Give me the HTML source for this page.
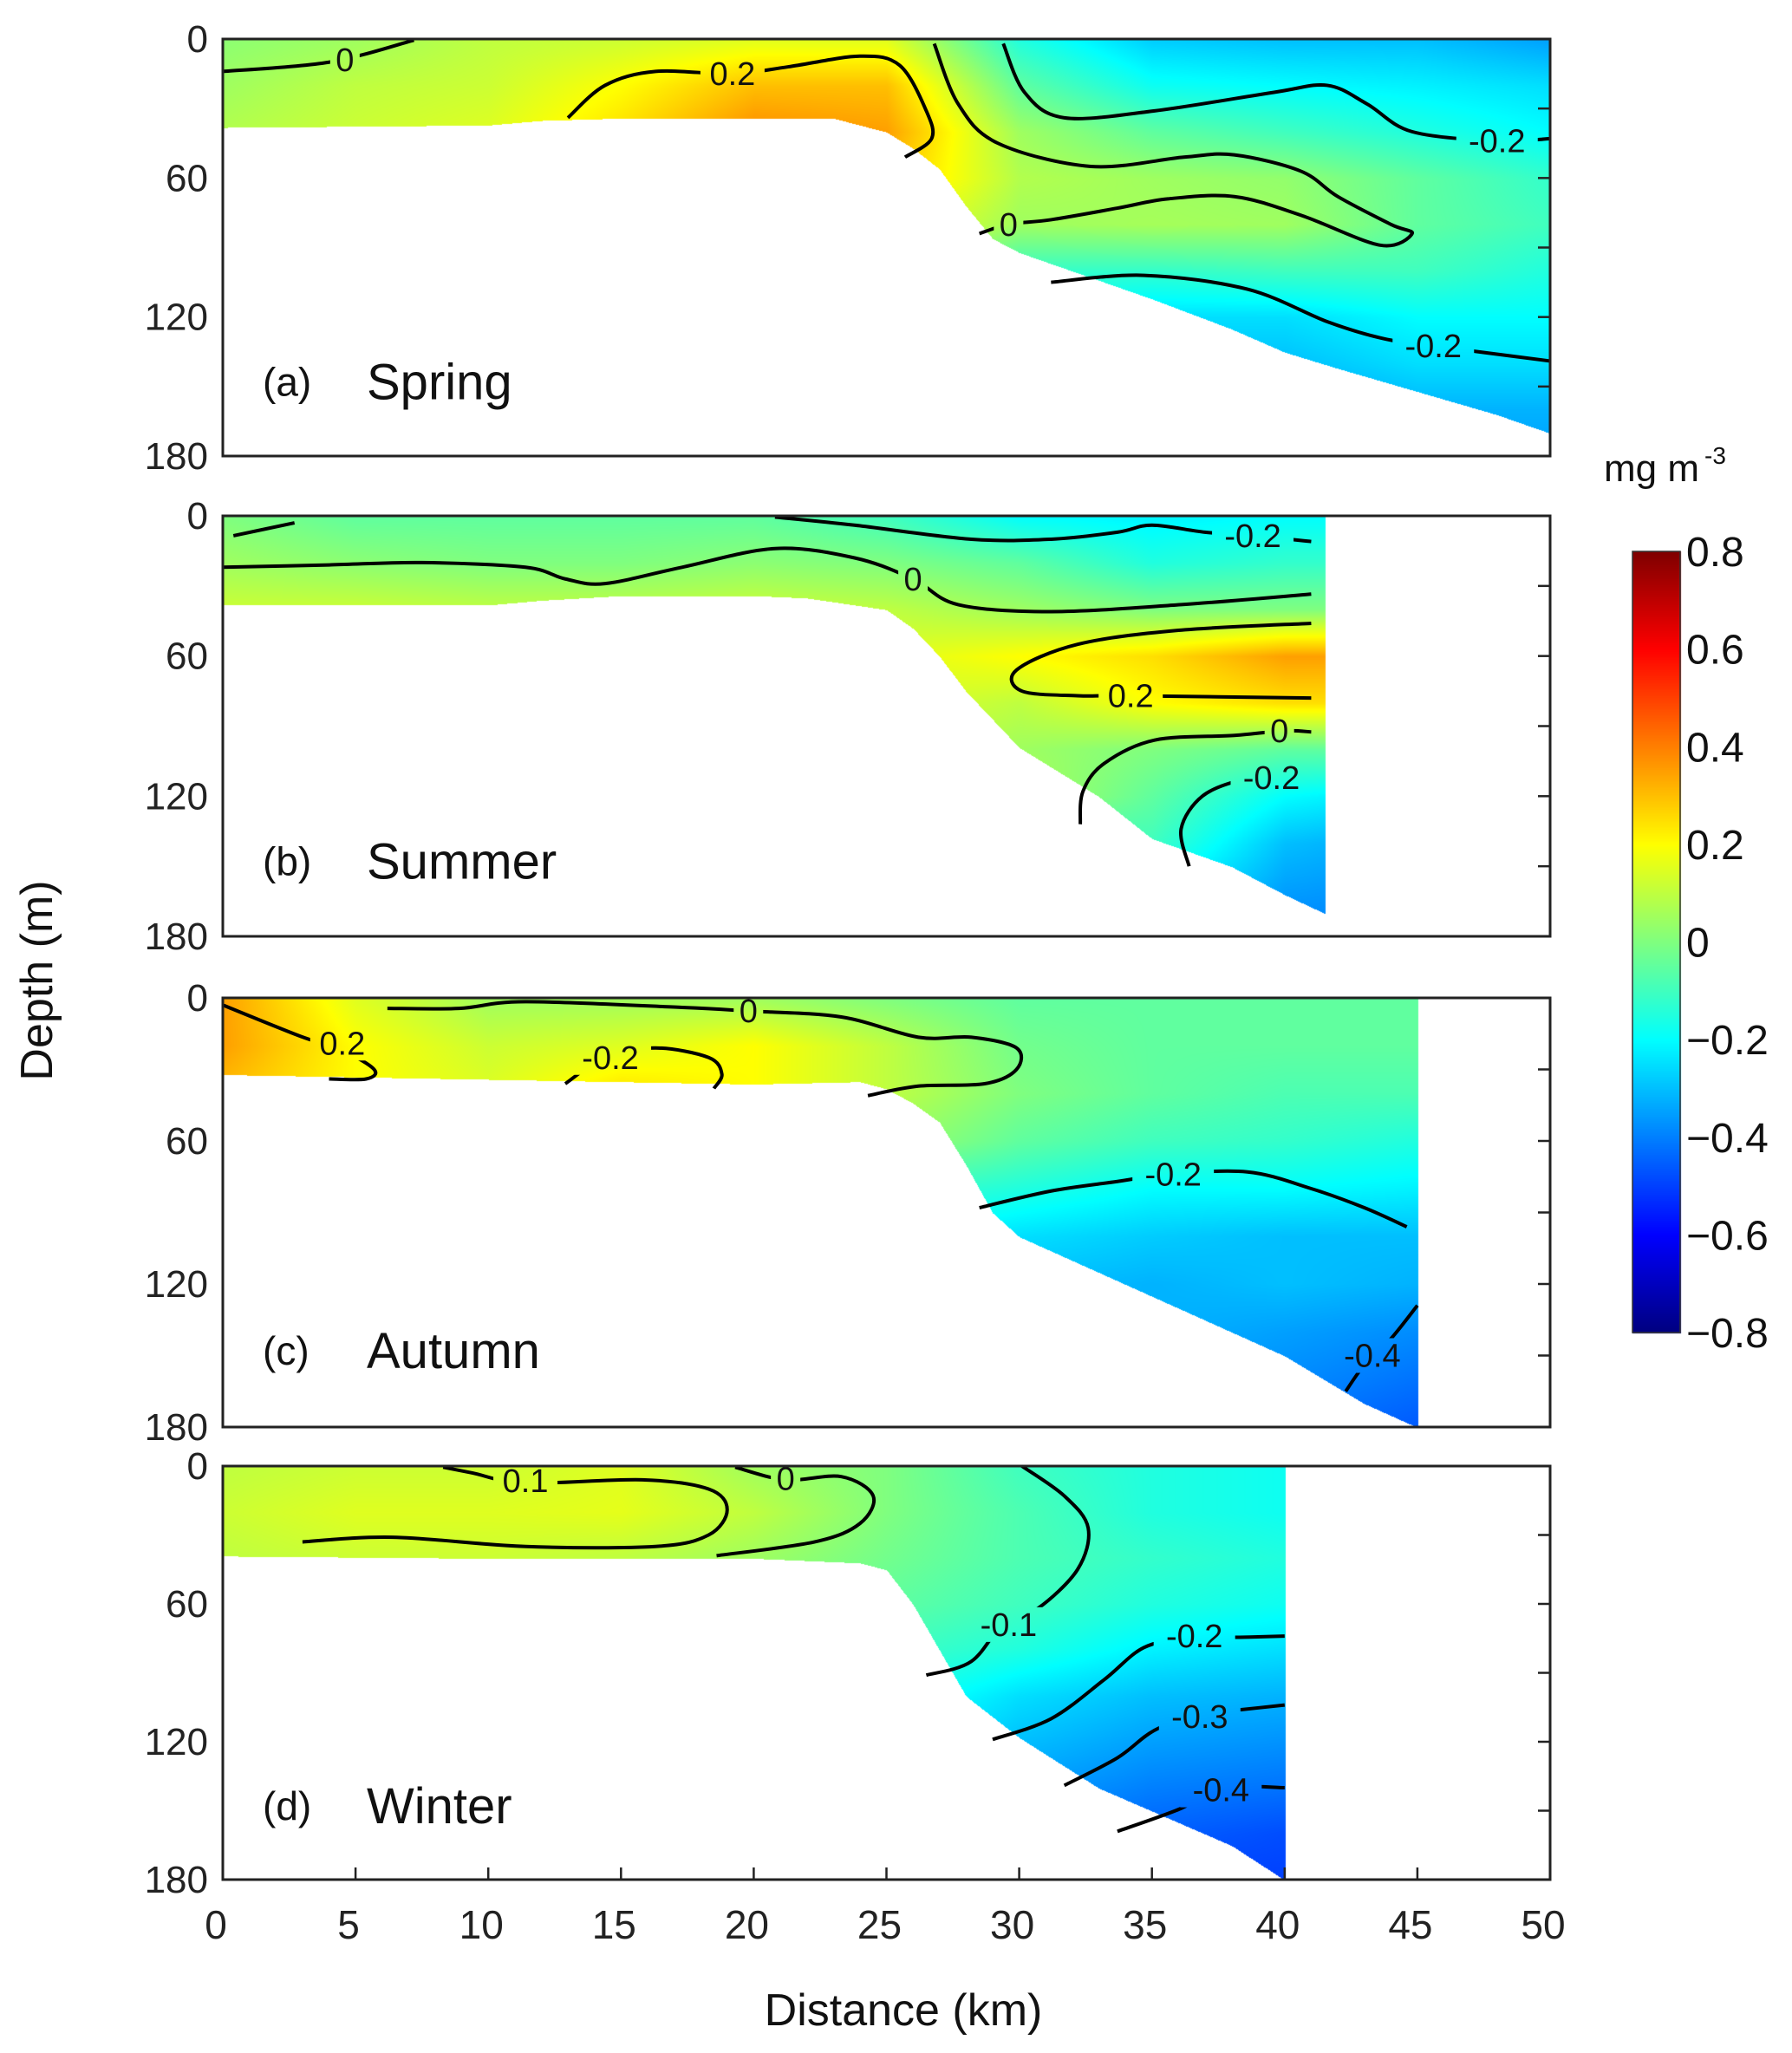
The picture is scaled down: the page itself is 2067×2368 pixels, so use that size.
<!DOCTYPE html>
<html><head><meta charset="utf-8">
<style>
html,body{margin:0;padding:0;background:#fff;}
#wrap{position:relative;width:2067px;height:2368px;overflow:hidden;font-family:"Liberation Sans",sans-serif;}
canvas{position:absolute;}
svg{position:absolute;left:0;top:0;}
</style></head>
<body>
<div id="wrap">
<canvas id="cv" width="2067" height="2368" style="left:0;top:0"></canvas>
<svg id="sv" width="2067" height="2368"></svg>
</div>
<script>
// ---- data ----
const gridKm = [0,5,10,15,20,25,30,35,40,45,50];
const gridDepth = [0,20,40,60,80,100,120,140,160,180];
const springValues = [
 [0.02,0.05,0.1,0.12,0.15,0.15,-0.15,-0.28,-0.3,-0.3,-0.35],
 [0.05,0.1,0.12,0.2,0.3,0.3,-0.05,-0.18,-0.2,-0.22,-0.25],
 [0.08,0.12,0.15,0.25,0.38,0.35,0.05,-0.05,-0.1,-0.15,-0.2],
 [0.1,0.12,0.15,0.25,0.35,0.3,0.08,0.05,0.03,-0.05,-0.12],
 [0.1,0.1,0.1,0.2,0.25,0.2,0.05,0.06,0.05,-0.05,-0.1],
 [0,0,0,0.1,0.1,0.05,-0.12,-0.12,-0.1,-0.1,-0.15],
 [-0.1,-0.1,-0.1,-0.1,-0.1,-0.15,-0.2,-0.25,-0.25,-0.2,-0.2],
 [-0.2,-0.2,-0.2,-0.2,-0.2,-0.25,-0.3,-0.3,-0.3,-0.25,-0.25],
 [-0.3,-0.3,-0.3,-0.3,-0.3,-0.3,-0.35,-0.35,-0.35,-0.32,-0.32],
 [-0.35,-0.35,-0.35,-0.35,-0.35,-0.35,-0.35,-0.35,-0.35,-0.35,-0.35]];
const summerValues = [
 [0.0,-0.05,-0.05,-0.05,-0.05,-0.1,-0.2,-0.22,-0.2,-0.2,-0.2],
 [0.05,0.02,0,0,0.02,0.0,-0.05,-0.15,-0.12,-0.12,-0.12],
 [0.12,0.12,0.1,0.1,0.12,0.1,0.05,0.0,0.0,0.0,0.0],
 [0.15,0.15,0.15,0.15,0.15,0.15,0.2,0.25,0.35,0.35,0.35],
 [0.15,0.15,0.15,0.15,0.15,0.15,0.1,0.2,0.25,0.25,0.25],
 [0.12,0.12,0.12,0.12,0.12,0.12,0.05,0.0,-0.05,-0.05,-0.05],
 [0.1,0.1,0.1,0.1,0.1,0.08,0.08,-0.05,-0.2,-0.25,-0.25],
 [0.05,0.05,0.05,0.05,0.05,0.05,-0.1,-0.1,-0.3,-0.35,-0.35],
 [0,0,0,0,0,0,-0.15,-0.2,-0.35,-0.38,-0.38],
 [-0.1,-0.1,-0.1,-0.1,-0.1,-0.1,-0.2,-0.3,-0.4,-0.4,-0.4]];
const autumnValues = [
 [0.35,0.15,0.05,0.05,0.05,0.0,-0.05,-0.05,-0.05,-0.05,-0.05],
 [0.35,0.2,0.12,0.15,0.2,0.1,-0.02,-0.05,-0.05,-0.05,-0.05],
 [0.3,0.2,0.15,0.25,0.2,0.1,0.0,-0.05,-0.08,-0.08,-0.08],
 [0.25,0.2,0.15,0.2,0.15,0.05,-0.05,-0.1,-0.12,-0.15,-0.15],
 [0.2,0.15,0.1,0.1,0.05,-0.1,-0.15,-0.2,-0.2,-0.22,-0.22],
 [0.1,0.1,0.05,0.0,-0.1,-0.2,-0.25,-0.28,-0.3,-0.3,-0.3],
 [0,0,0,-0.1,-0.2,-0.25,-0.3,-0.32,-0.3,-0.32,-0.32],
 [-0.1,-0.1,-0.1,-0.2,-0.25,-0.3,-0.32,-0.32,-0.35,-0.38,-0.38],
 [-0.2,-0.2,-0.2,-0.25,-0.3,-0.32,-0.35,-0.35,-0.38,-0.42,-0.42],
 [-0.3,-0.3,-0.3,-0.3,-0.35,-0.38,-0.4,-0.4,-0.42,-0.46,-0.46]];
const winterValues = [
 [0.1,0.12,0.12,0.15,0.05,0.0,-0.1,-0.15,-0.18,-0.18,-0.18],
 [0.12,0.15,0.15,0.16,0.1,0.0,-0.08,-0.15,-0.18,-0.18,-0.18],
 [0.1,0.12,0.12,0.1,0.05,-0.02,-0.08,-0.12,-0.15,-0.15,-0.15],
 [0.05,0.05,0.05,0.05,0.0,-0.05,-0.1,-0.15,-0.18,-0.18,-0.18],
 [0,0,0,0,-0.05,-0.1,-0.15,-0.22,-0.25,-0.25,-0.25],
 [-0.05,-0.05,-0.05,-0.08,-0.1,-0.15,-0.25,-0.3,-0.32,-0.32,-0.32],
 [-0.1,-0.1,-0.1,-0.12,-0.15,-0.2,-0.3,-0.35,-0.37,-0.37,-0.37],
 [-0.15,-0.15,-0.15,-0.2,-0.25,-0.3,-0.35,-0.4,-0.42,-0.42,-0.42],
 [-0.2,-0.2,-0.2,-0.25,-0.3,-0.35,-0.4,-0.45,-0.48,-0.48,-0.48],
 [-0.25,-0.25,-0.25,-0.3,-0.35,-0.4,-0.45,-0.5,-0.5,-0.5,-0.5]];
const springBathyKm = [0,10,12,15,20,23,25,26,27,28,29,30,32,35,38,40,42,45,48,50];
const springBathyDepth = [38,37,35,34,34,34,40,47,56,72,86,92,100,112,125,135,142,152,162,170];
const summerBathyKm = [0,10,12,15,20,22,25,26,27,28,30,33,35,38,40,41.5];
const summerBathyDepth = [38,38,36,34,34,35,40,48,60,75,99,120,138,150,162,170];
const autumnBathyKm = [0,10,15,20,24,25,26,27,28,29,30,35,40,43,45];
const autumnBathyDepth = [32,34,35,36,35,38,44,52,70,90,100,125,150,170,180];
const winterBathyKm = [0,10,15,20,24,25,26,27,28,30,33,35,38,40];
const winterBathyDepth = [39,40,40,40,42,45,60,80,100,118,140,150,165,180];
const panelExtentKm = [50,41.5,45,40];
const panelNames = ["(a)","(b)","(c)","(d)"];
const seasonNames = ["Spring","Summer","Autumn","Winter"];
const yTickLabels = [0,60,120,180];
const xTickLabels = [0,5,10,15,20,25,30,35,40,45,50];
const cbarTickLabels = [0.8,0.6,0.4,0.2,0,-0.2,-0.4,-0.6,-0.8];
// contour lines: [km, depth] points
const springContours = [
 {v:"0",pts:[[0,14],[4,10],[7.2,0.5]],lab:[4.6,9]},
 {v:"0.2",pts:[[13,34],[14.4,20],[16.3,14],[19.2,15],[21.3,12],[24,7.4],[25.5,11.4],[26.5,31],[26.7,43],[25.7,51]],lab:[19.2,15]},
 {v:"0",pts:[[26.8,2],[27.7,28],[29.2,45],[32.7,55],[36.2,51],[38.1,50],[40.6,57],[42,68],[44,80],[44.8,84],[43.6,89],[40.6,76],[38.1,68],[35.6,69],[33.7,73],[31.2,78],[29.6,80],[28.5,84]],lab:[29.6,80]},
 {v:"-0.2",pts:[[29.4,2],[30.2,23],[31.7,34],[35.1,31],[39.6,23],[41.6,20],[43.1,28],[44.8,40],[48,44],[50,43]],lab:[48,44]},
 {v:"-0.2",pts:[[31.2,105],[34.7,102],[38.6,108],[41.6,122],[43.6,129],[45.3,132],[50,139]],lab:[45.6,132.5]}];
const summerContours = [
 {v:"",pts:[[0.4,8.5],[2.7,3]]},
 {v:"0",pts:[[0,22],[4,21],[7.5,20],[11.4,22],[12.9,27],[14.4,29],[17.3,22],[20.8,14],[23.8,18],[26,27],[27.7,38],[31.2,41],[36.1,38],[41,33.5]],lab:[26,27]},
 {v:"-0.2",pts:[[20.8,0.5],[23.8,4],[28.2,10],[31.2,10],[33.7,7],[35,4],[37,7],[38.8,8.5],[41,11]],lab:[38.8,8.5]},
 {v:"0.2",pts:[[41,46],[36,49],[32.2,55],[29.9,66],[30.1,75],[32.2,77],[34.2,77],[41,78]],lab:[34.2,77]},
 {v:"0",pts:[[32.3,132],[32.4,118],[33.2,106],[35.1,96],[38.1,94],[40,92],[41,92.5]],lab:[39.8,92]},
 {v:"-0.2",pts:[[36.4,150],[36.1,134],[36.9,120],[38.4,113],[39.8,112],[41,112]],lab:[39.5,112]}];
const autumnContours = [
 {v:"0.2",pts:[[0,3],[2.9,16],[4.5,22],[5.7,30],[5.4,34],[4,34]],lab:[4.5,19]},
 {v:"0",pts:[[6.2,4.4],[8.9,4.4],[11.4,1.6],[17.3,4],[19.8,5.5],[23.3,8],[26.2,16.5],[28.2,16.5],[29.9,21],[29.9,30],[28.7,36],[26.2,37],[24.3,41]],lab:[19.8,5.5]},
 {v:"-0.2",pts:[[12.9,36],[14.4,25],[16.3,21],[18.3,25],[18.8,32],[18.5,38]],lab:[14.6,25]},
 {v:"-0.2",pts:[[28.5,88],[31.2,81],[33.7,77],[35.6,74],[38.6,73],[41,80],[43,88],[44.6,96]],lab:[35.8,74]},
 {v:"-0.4",pts:[[45,129],[44,143],[43,154],[42.3,165]],lab:[43.3,150]}];
const winterContours = [
 {v:"0.1",pts:[[3,33],[6.4,31],[11.4,35],[16.3,35],[18.3,30],[19,19],[18.3,10],[15.8,6],[11.4,7.4],[9.4,3],[8.3,0.5]],lab:[11.4,6.5]},
 {v:"0",pts:[[18.6,39],[22.3,33],[24,25],[24.5,13],[23.3,4.6],[21.2,6],[19.3,0.5]],lab:[21.2,5.5]},
 {v:"-0.1",pts:[[30.1,0],[31.7,13],[32.6,27],[32.2,45],[30.7,62],[29.5,67],[28.2,85],[26.5,91]],lab:[29.6,69]},
 {v:"-0.2",pts:[[29,119],[31.2,110],[33.2,93],[34.7,79],[36.4,75],[38.5,74.5],[40,74]],lab:[36.6,74]},
 {v:"-0.3",pts:[[31.7,139],[33.7,127],[35.1,115],[36.8,108],[38.4,106],[40,104]],lab:[36.8,109]},
 {v:"-0.4",pts:[[33.7,159],[36.1,149],[37.6,140],[40,140]],lab:[37.6,141]}];

// ---- layout ----
const X0=257, X1=1788;
const panelTop=[45,595,1151,1691], panelBot=[526,1080,1646,2168];
const allValues=[springValues,summerValues,autumnValues,winterValues];
const allBathyKm=[springBathyKm,summerBathyKm,autumnBathyKm,winterBathyKm];
const allBathyDepth=[springBathyDepth,summerBathyDepth,autumnBathyDepth,winterBathyDepth];
const allContours=[springContours,summerContours,autumnContours,winterContours];
const xS=km=>X0+km*(X1-X0)/50;
const yS=(p,d)=>panelTop[p]+d*(panelBot[p]-panelTop[p])/180;

function jet(v){let t=(v+0.8)/1.6;t=Math.max(0,Math.min(1,t));
 const c=x=>Math.max(0,Math.min(1,x));
 return [c(1.5-Math.abs(4*t-3))*255,c(1.5-Math.abs(4*t-2))*255,c(1.5-Math.abs(4*t-1))*255];}
function interp1(xs,ys,x){if(x<=xs[0])return ys[0];for(let i=1;i<xs.length;i++){if(x<=xs[i]){const f=(x-xs[i-1])/(xs[i]-xs[i-1]);return ys[i-1]+f*(ys[i]-ys[i-1]);}}return ys[ys.length-1];}
function bil(g,km,d){let fi=d/20,fj=km/5;let i=Math.min(8,Math.floor(fi)),j=Math.min(9,Math.floor(fj));
 let a=fi-i,b=fj-j;a=Math.min(1,a);b=Math.min(1,b);
 return g[i][j]*(1-a)*(1-b)+g[i][j+1]*(1-a)*b+g[i+1][j]*a*(1-b)+g[i+1][j+1]*a*b;}

const cv=document.getElementById('cv'),ctx=cv.getContext('2d');
const img=ctx.createImageData(2067,2368),D=img.data;
for(let p=0;p<4;p++){
 const xa=Math.round(xS(0)),xb=Math.round(xS(panelExtentKm[p]));
 for(let x=xa;x<=xb;x++){
  const km=(x-X0)*50/(X1-X0);
  const bd=interp1(allBathyKm[p],allBathyDepth[p],km);
  const yb=Math.round(yS(p,bd));
  for(let y=panelTop[p];y<=Math.min(yb,panelBot[p]);y++){
   const d=(y-panelTop[p])*180/(panelBot[p]-panelTop[p]);
   const c=jet(bil(allValues[p],km,d));const k=(y*2067+x)*4;
   D[k]=c[0];D[k+1]=c[1];D[k+2]=c[2];D[k+3]=255;}
 }
}
// colorbar
const CBX0=1883,CBX1=1938,CBY0=636,CBY1=1537;
for(let y=CBY0;y<=CBY1;y++){const v=0.8-1.6*(y-CBY0)/(CBY1-CBY0);const c=jet(v);
 for(let x=CBX0;x<=CBX1;x++){const k=(y*2067+x)*4;D[k]=c[0];D[k+1]=c[1];D[k+2]=c[2];D[k+3]=255;}}
ctx.putImageData(img,0,0);

const NS='http://www.w3.org/2000/svg';const sv=document.getElementById('sv');
function el(t,a,txt,parent){const e=document.createElementNS(NS,t);for(const k in a)e.setAttribute(k,a[k]);if(txt!==undefined)e.textContent=txt;(parent||sv).appendChild(e);return e;}
function smooth(pts){let s=`M${pts[0][0]},${pts[0][1]}`;for(let i=0;i<pts.length-1;i++){const p0=pts[Math.max(0,i-1)],p1=pts[i],p2=pts[i+1],p3=pts[Math.min(pts.length-1,i+2)];
 const c1=[p1[0]+(p2[0]-p0[0])/6,p1[1]+(p2[1]-p0[1])/6],c2=[p2[0]-(p3[0]-p1[0])/6,p2[1]-(p3[1]-p1[1])/6];
 s+=` C${c1[0]},${c1[1]} ${c2[0]},${c2[1]} ${p2[0]},${p2[1]}`;}return s;}

// mask that cuts the contour lines under labels
const defs=el('defs',{});
const mask=el('mask',{id:'labmask',maskUnits:'userSpaceOnUse',x:0,y:0,width:2067,height:2368},undefined,defs);
el('rect',{x:0,y:0,width:2067,height:2368,fill:'#fff'},undefined,mask);
const lineGroup=el('g',{mask:'url(#labmask)'});



for(let p=0;p<4;p++){
 allContours[p].forEach(c=>{
  const pts=c.pts.map(q=>[xS(q[0]),yS(p,q[1])]);
  const e=el('path',{d:smooth(pts),fill:'none',stroke:'#000','stroke-width':4,'stroke-linejoin':'round'},undefined,lineGroup);
  
  
  if(c.lab&&c.v){
   const lx=xS(c.lab[0]),ly=yS(p,c.lab[1]);
   const w=c.v.length*20+14;
   el('rect',{x:lx-w/2,y:ly-20,width:w,height:40,fill:'#000'},undefined,mask);
   const t=el('text',{x:lx,y:ly+13,'font-size':38,'text-anchor':'middle',fill:'#111'},c.v);
   
   }
 });
 const fr=el('rect',{x:X0,y:panelTop[p],width:X1-X0,height:panelBot[p]-panelTop[p],fill:'none',stroke:'#222','stroke-width':3});
 
 
 for(let d=30;d<180;d+=30){const tk=el('line',{x1:X1-14,x2:X1,y1:yS(p,d),y2:yS(p,d),stroke:'#222','stroke-width':2.5});
  
  }
 yTickLabels.forEach(v=>{const t=el('text',{x:240,y:yS(p,v)+15,'font-size':44,'text-anchor':'end',fill:'#222'},v);
  
  });
 const pl=el('text',{x:303,y:(panelBot[p]-panelTop[p])*0.855+panelTop[p],'font-size':46,fill:'#111'},panelNames[p]);
 
 
 const sl=el('text',{x:423,y:(panelBot[p]-panelTop[p])*0.855+panelTop[p]+4,'font-size':58,fill:'#111'},seasonNames[p]);
 
 
}
xTickLabels.forEach(v=>{const t=el('text',{x:xS(v)-8,y:2236,'font-size':46,'text-anchor':'middle',fill:'#222'},v);
 
 
 const tk=el('line',{x1:xS(v),x2:xS(v),y1:panelBot[3],y2:panelBot[3]-14,stroke:'#222','stroke-width':2.5});
 
 });
const xt=el('text',{x:1042,y:2336,'font-size':52,'text-anchor':'middle',fill:'#111'},'Distance (km)');


const yt=el('text',{x:0,y:0,'font-size':52,'text-anchor':'middle',fill:'#111',transform:'translate(60,1131) rotate(-90)'},'Depth (m)');


const cbr=el('rect',{x:CBX0,y:CBY0,width:CBX1-CBX0,height:CBY1-CBY0,fill:'none',stroke:'#333','stroke-width':1.5});


cbarTickLabels.forEach(v=>{const y=CBY0+(0.8-v)/1.6*(CBY1-CBY0);
 const t=el('text',{x:1945,y:y+17,'font-size':48,fill:'#111'},(v<0?'\u2212':'')+Math.abs(v));
 
 });
const un=el('text',{x:1850,y:555,'font-size':44,fill:'#111'},'mg m');


const sup=el('text',{x:1966,y:535,'font-size':28,fill:'#111'},'-3');


</script>
</body></html>
